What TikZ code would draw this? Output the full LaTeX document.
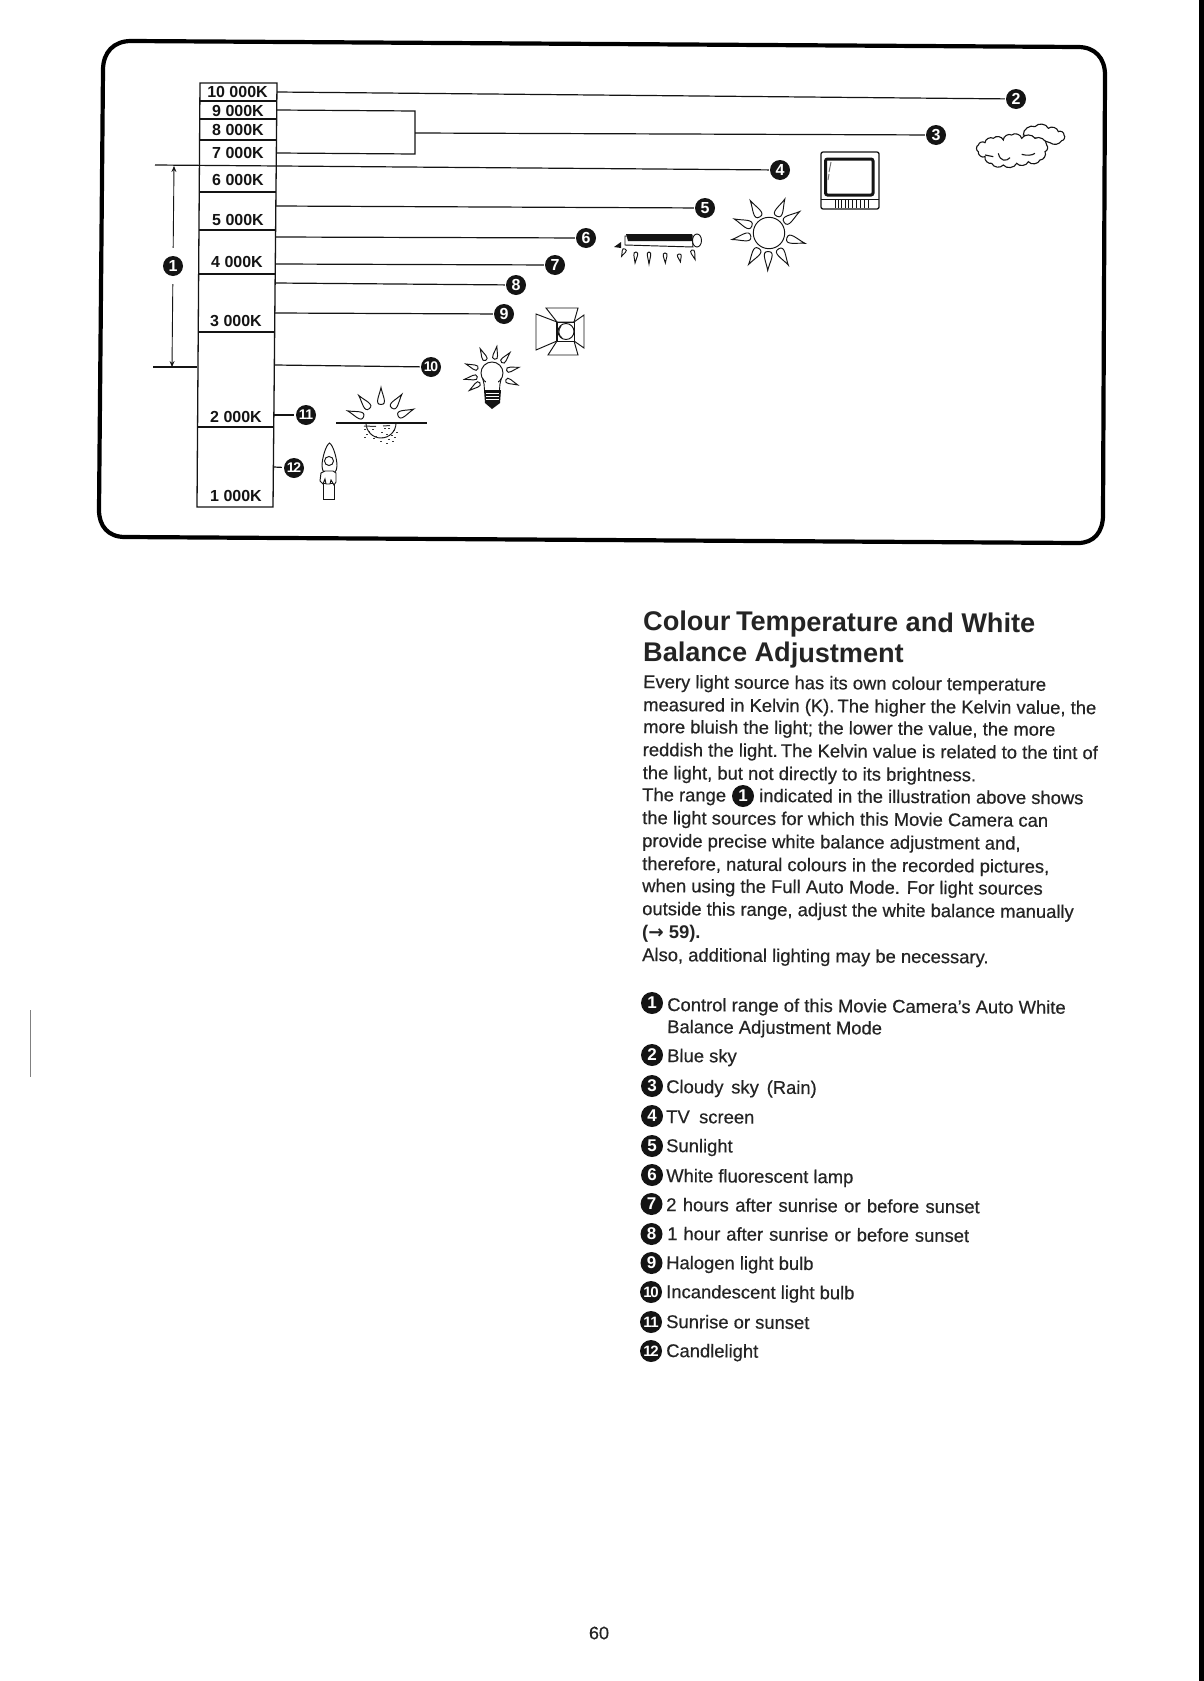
\documentclass[tikz,border=0pt]{standalone}
\usepackage{fontspec}
\usetikzlibrary{arrows.meta}
\setmainfont{Liberation Sans}
\newfontfamily\arrowfont{DejaVu Sans}
\definecolor{ink}{gray}{0.08}
\definecolor{txt}{gray}{0.14}
\newcommand{\petal}[5]{% x y angle length halfwidth
  \draw[icon,shift={(#1,#2)},rotate=#3] (#4,0) .. controls ({0.55*#4},{0.2*#5}) and (0,#5) .. (0,0) .. controls (0,-#5) and ({0.55*#4},{-0.2*#5}) .. (#4,0) -- cycle;}
\newcommand{\rayring}[5]{% cx cy r len halfwidth; angles in \rayangles
  \foreach \a in \rayangles {\petal{{#1+#3*cos(\a)}}{{#2-#3*sin(\a)}}{\a}{#4}{#5}}}
\tikzset{
  frame/.style={draw=black,line width=4.2pt,line join=round},
  col/.style={draw=ink,line width=1.3pt},
  lead/.style={draw=ink,line width=1.2pt},
  icon/.style={draw=ink,line width=0.95pt,fill=white},
  num/.style={circle,fill=ink,text=white,inner sep=0pt,minimum size=20pt,font=\fontsize{16}{16}\selectfont\bfseries},
  numw/.style={num,font=\fontsize{14}{14}\selectfont\bfseries},
  numl/.style={num,minimum size=22pt,font=\fontsize{17}{17}\selectfont\bfseries},
  numlw/.style={numl,font=\fontsize{15}{15}\selectfont\bfseries},
  kel/.style={inner sep=0pt,text=ink,font=\fontsize{16}{16}\selectfont\bfseries},
  ttl/.style={anchor=base west,inner sep=0pt,text=txt,rotate=-0.4,font=\fontsize{27.1}{28}\selectfont\bfseries},
  body/.style={anchor=base west,inner sep=0pt,text=txt,rotate=-0.4,font=\fontsize{18.4}{22}\selectfont\addfontfeature{FakeBold=0.45}},
}
\begin{document}
\begin{tikzpicture}[x=1pt,y=-1pt]
\useasboundingbox (0,0) rectangle (1204,1681);
\fill[white] (0,0) rectangle (1204,1681);
% page edge marks
\fill[black] (1199,0) rectangle (1204,1681);
\draw[gray,line width=0.8pt] (30,1010) -- (30,1077);
% frame
\draw[frame] (131,41) -- (1078,47) .. controls (1095,47) and (1105,58) .. (1105,75)
  -- (1103,515) .. controls (1103,532) and (1094,543) .. (1078,543)
  -- (125,537) .. controls (108,537) and (99,526) .. (99,510)
  -- (103,70) .. controls (103,52) and (114,41) .. (131,41) -- cycle;
% scale column
\draw[col] (200,83) -- (277,83) -- (273,507) -- (197,507) -- cycle;
\draw[col] (199.9,101) -- (276.8,101);
\draw[col] (199.7,119) -- (276.7,119);
\draw[col] (199.6,140) -- (276.5,140);
\draw[col] (199.2,192) -- (276,192);
\draw[col] (199,230) -- (275.6,230);
\draw[col] (198.6,274) -- (275.2,274);
\draw[col] (198.2,332) -- (274.7,332);
\draw[col] (197.6,427) -- (273.8,427);
\node[kel] (k10) at (237.5,92) {10 000K};
\node[kel] (k9) at (238,110.5) {9 000K};
\node[kel] (k8) at (238,130) {8 000K};
\node[kel] (k7) at (238,153) {7 000K};
\node[kel] (k6) at (238,179.5) {6 000K};
\node[kel] (k5) at (238,220) {5 000K};
\node[kel] (k4) at (237,262) {4 000K};
\node[kel] (k3) at (236,321) {3 000K};
\node[kel] (k2) at (236,417) {2 000K};
\node[kel] (k1) at (236,496) {1 000K};
% numbered markers
\node[num] (n1) at (173,266) {1};
\node[num] (n2) at (1016,99) {2};
\node[num] (n3) at (936,135) {3};
\node[num] (n4) at (780,170) {4};
\node[num] (n5) at (705,208) {5};
\node[num] (n6) at (586,238) {6};
\node[num] (n7) at (555,265) {7};
\node[num] (n8) at (516,285) {8};
\node[num] (n9) at (504,314) {9};
\node[numw] (n10) at (431,367) {1\kern-1.5pt 0};
\node[numw] (n11) at (306,415) {1\kern-1.5pt 1};
\node[numw] (n12) at (294,468) {1\kern-1.5pt 2};
% connector ends
\coordinate (a2) at (277,92);
\coordinate (a3t) at (277,110);
\coordinate (a3b) at (277,153);
\coordinate (br) at (415,133);
\coordinate (a4) at (155,165);
\coordinate (a5) at (276,206);
\coordinate (a6) at (276,237);
\coordinate (a7) at (276,264);
\coordinate (a8) at (275,283);
\coordinate (a9) at (275,313);
\coordinate (a10) at (275,365);
\coordinate (a11) at (274,415);
\coordinate (a12) at (274,467);
\coordinate (l10a) at (153,367);
\coordinate (l10b) at (197,367);
\coordinate (rt) at (174,166);
\coordinate (rb) at (172,367);
\draw[lead,shorten >=1pt] (a2) -- (n2);
\draw[lead] (a3t) -- (415,111) -- (415,154) -- (a3b);
\draw[lead,shorten >=1pt] (br) -- (n3);
\draw[lead,shorten >=1pt] (a4) -- (n4);
\draw[lead,shorten >=1pt] (a5) -- (n5);
\draw[lead,shorten >=1pt] (a6) -- (n6);
\draw[lead,shorten >=1pt] (a7) -- (n7);
\draw[lead,shorten >=1pt] (a8) -- (n8);
\draw[lead,shorten >=1pt] (a9) -- (n9);
\draw[lead,shorten >=1pt] (a10) -- (n10);
\draw[lead,shorten >=2pt] (a11) -- (n11);
\draw[lead,shorten >=2pt] (a12) -- (n12);
\draw[lead] (l10a) -- (l10b);
\draw[draw=ink,line width=0.9pt,-{Stealth[length=6pt,width=5pt]},shorten <=8pt] (n1) -- (rt);
\draw[draw=ink,line width=0.9pt,-{Stealth[length=6pt,width=5pt]},shorten <=8pt] (n1) -- (rb);
% cloud
\begin{scope}[shift={(960,110)},x=0.3333pt,y=-0.3333pt]
\draw[draw=ink,line width=1.1pt,fill=white] (190,75) to[bend left=60] (225,50) to[bend left=60] (265,55) to[bend left=60] (295,65) to[bend left=70] (312,75) to[bend left=70] (305,92) to[bend left=50] (270,98) -- (230,85) -- cycle;
\draw[draw=ink,line width=1.1pt,fill=white] (55,105) to[bend left=60] (75,98) to[bend left=60] (100,85) to[bend left=60] (130,90) to[bend left=60] (155,75) to[bend left=60] (185,85) to[bend left=60] (225,85) to[bend left=60] (260,105) to[bend left=60] (255,125) to[bend left=60] (240,150) to[bend left=60] (205,155) to[bend left=60] (170,160) to[bend left=60] (130,165) to[bend left=60] (95,160) to[bend left=60] (75,140) to[bend left=70] (55,125) to[bend left=70] cycle;
\draw[draw=ink,line width=1.1pt] (75,135) -- (100,140);
\draw[draw=ink,line width=1.1pt] (115,130) .. controls (120,155) and (140,155) .. (150,143);
\draw[draw=ink,line width=1.1pt] (185,133) .. controls (200,137) and (215,137) .. (225,130);
\end{scope}
% TV
\draw[draw=ink,line width=1.3pt,rounded corners=2pt,fill=white] (821,152) rectangle (879,209);
\draw[draw=ink,line width=3pt,rounded corners=2pt] (825.5,159) rectangle (873,195);
\draw[draw=ink,line width=0.8pt] (821,199) -- (879,199);
\foreach \x in {835,838,841,845,848,852,856,860,864,868} {\draw[draw=ink,line width=1pt] (\x,200) -- (\x,208);}
\draw[draw=ink!60,line width=1pt] (831,162) -- (829,172) (829,174) -- (828,180);
% sun
\def\rayangles{120,65,35,-16,-59,-92,-123,190,158}
\rayring{769}{233}{18.5}{19}{8}
\draw[icon] (769,233) circle (15.7);
% fluorescent lamp
\draw[icon] (625,236) -- (692,235) -- (693,247) -- (625,245) -- cycle;
\fill[ink] (626,234) -- (692,234) -- (692,241) -- (628,241) -- cycle;
\draw[icon] (697,240.5) ellipse (4.5 and 6.5);
\fill[ink] (614,247) -- (621,242) -- (621,248) -- cycle;
\petal{625}{249}{-115}{8}{4}
\petal{636}{252}{-95}{11}{4}
\petal{649}{252}{-90}{12}{3.5}
\petal{665}{253}{-88}{10}{4}
\petal{679}{254}{-80}{8}{4}
\petal{692}{250}{-72}{10}{4}
% halogen
\draw[icon] (546,308) -- (578,308) -- (574,322) -- (557,322) -- cycle;
\draw[icon] (557,341) -- (574,341) -- (578,355) -- (548,355) -- cycle;
\draw[icon] (536,314) -- (557,322) -- (557,341) -- (536,350) -- cycle;
\draw[icon] (584,315) -- (574,322) -- (574,341) -- (584,348) -- cycle;
\draw[draw=ink,line width=0.9pt,fill=white] (557,322) rectangle (574,341);
\draw[draw=ink,line width=1.6pt] (557,322) -- (557,341);
\draw[icon] (566,331.5) circle (8);
\draw[draw=ink,line width=0.9pt] (561,326) .. controls (558,330) and (558,335) .. (562,338);
% bulb
\def\rayangles{115,80,50,14,-23,159,191,216}
\rayring{492}{374}{15}{13}{5}
\fill[ink] (484,390) -- (501,390) -- (500,403) -- (492,409) -- (485,403) -- cycle;
\foreach \y in {393,396,399} {\draw[white,line width=0.6pt] (486,\y) -- (499,\y);}
\draw[icon] (492,373) circle (11);
\fill[white] (486,380) rectangle (498,388);
\draw[draw=ink,line width=0.9pt] (482.5,378) .. controls (484,383) and (484.5,386) .. (484.5,390) (501.5,378) .. controls (500,383) and (499.5,386) .. (499.5,390);
% sunrise
\def\rayangles{129,90,54,23,160}
\rayring{381}{423}{18.5}{17}{7}
\draw[icon] (366,423) arc[start angle=180,end angle=0,radius=15];
\draw[draw=ink,line width=1.5pt] (336,423) -- (427,423);
\foreach \x/\y in {364/429,368/431,372/429,384/428,388/428,393/430,396/432,366/434,381/432,386/434,391/435,375/436,373/438,382/437,388/439,394/437,386/443,392/441,364/437,380/441}
  {\fill[ink!85] (\x,\y) rectangle ++(2.2,1.4);}
\draw[draw=ink!85,line width=1pt] (364,426) -- (376,426.5) (383,426) -- (390,425.5);
% candle
\draw[icon] (329.5,443) .. controls (326,445) and (322,458) .. (322,466) .. controls (322,472) and (326,475) .. (329,475) .. controls (333,475) and (337,472) .. (337,466) .. controls (337,458) and (333,445) .. (329.5,443) -- cycle;
\draw[icon] (329,461) circle (4.5);
\draw[icon] (323,483) rectangle (334,499);
\draw[icon] (325,471) -- (321,473) -- (320,481) -- (323,484) -- (325,479) -- (326,484) -- (330,484) -- (331,480) -- (334,485) -- (336,482) -- (336,473) -- (333,471) -- cycle;
% heading
\node[ttl] (h1) at (643,630) {Colour\kern-2pt\ Temperature and White};
\node[ttl] (h2) at (643,661) {Balance Adjustment};
% body
\node[body] (b1) at (643,688) {Every light source has its own colour temperature};
\node[body] (b2) at (643,711) {measured in Kelvin (K).\kern-2pt\ The higher the Kelvin value, the};
\node[body] (b3) at (643,733) {more bluish the light; the lower the value, the more};
\node[body] (b4) at (642.5,756) {reddish the light.\kern-2pt\ The Kelvin value is related to the tint of};
\node[body] (b5) at (642.5,779) {the light, but not directly to its brightness.};
\node[body] (b6a) at (642,801) {The range};
\node[numl] (b6n) at (743,796) {1};
\node[body] (b6b) at (759,802) {indicated in the illustration above shows};
\node[body] (b7) at (642,824) {the light sources for which this Movie Camera can};
\node[body] (b8) at (642,847) {provide precise white balance adjustment and,};
\node[body] (b9) at (642,870) {therefore, natural colours in the recorded pictures,};
\node[body] (b10) at (642,892) {when using the Full Auto Mode. For light sources};
\node[body] (b11) at (642,915) {outside this range, adjust the white balance manually};
\node[body,font=\fontsize{18.4}{22}\selectfont\bfseries] (b12) at (642,938) {({\arrowfont\bfseries →} 59).};
\node[body] (b13) at (642,961) {Also, additional lighting may be necessary.};
% legend
\node[numl] (m1) at (652,1003) {1};
\node[numl] (m2) at (652,1055) {2};
\node[numl] (m3) at (652,1086) {3};
\node[numl] (m4) at (652,1116) {4};
\node[numl] (m5) at (652,1146) {5};
\node[numl] (m6) at (652,1175) {6};
\node[numl] (m7) at (651.5,1204) {7};
\node[numl] (m8) at (651.5,1234) {8};
\node[numl] (m9) at (651.5,1263) {9};
\node[numlw] (m10) at (651,1292) {1\kern-1.5pt 0};
\node[numlw] (m11) at (651,1322) {1\kern-1.5pt 1};
\node[numlw] (m12) at (651,1351) {1\kern-1.5pt 2};
\node[body] (c1) at (667,1011) {Control range of this Movie Camera's Auto White};
\node[body] (c1b) at (667,1033) {Balance Adjustment Mode};
\node[body] (c2) at (667,1062) {Blue sky};
\node[body] (c3) at (666,1093) {\spaceskip=7.8pt Cloudy sky (Rain)};
\node[body] (c4) at (666,1123) {\spaceskip=9.4pt TV screen};
\node[body] (c5) at (666,1152) {Sunlight};
\node[body] (c6) at (666,1182) {White fluorescent lamp};
\node[body] (c7) at (666,1211) {\spaceskip=6.4pt 2 hours after sunrise or before sunset};
\node[body] (c8) at (667,1240) {\spaceskip=6pt 1 hour after sunrise or before sunset};
\node[body] (c9) at (666,1269) {Halogen light bulb};
\node[body] (c10) at (666,1298) {Incandescent light bulb};
\node[body] (c11) at (666,1328) {Sunrise or sunset};
\node[body] (c12) at (666,1357) {Candlelight};
\node[inner sep=0pt,text=txt,font=\fontsize{18}{18}\selectfont\addfontfeature{FakeBold=0.45}] (pg) at (599,1633) {60};
\end{tikzpicture}
\end{document}
